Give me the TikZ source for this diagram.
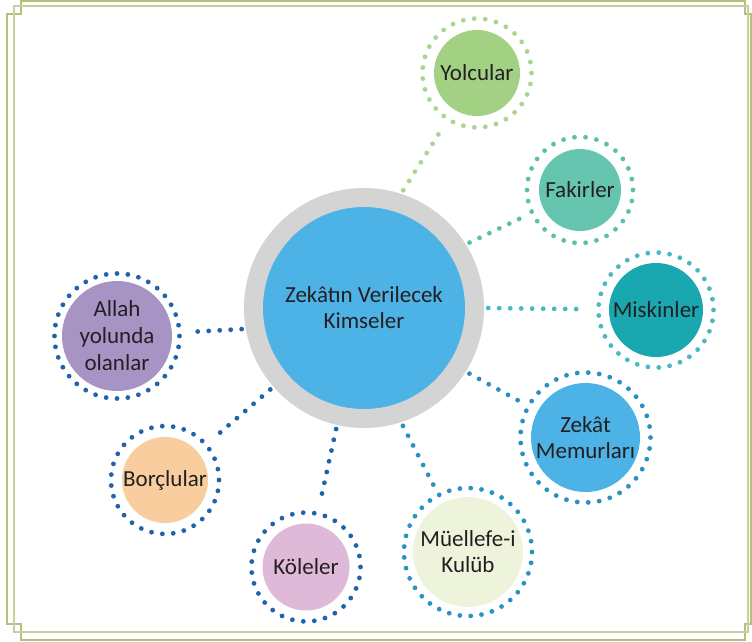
\documentclass[tikz,border=0pt]{standalone}
\usepackage{fontspec}
\setmainfont{Carlito}
\definecolor{olivea}{HTML}{B4C07B}
\definecolor{oliveb}{HTML}{C6D09C}
\definecolor{txt}{HTML}{231F20}
\definecolor{grayring}{HTML}{D4D4D4}
\definecolor{skyblue}{HTML}{4DB3E6}
\definecolor{yolfill}{HTML}{A3D184}
\definecolor{yoldot}{HTML}{A8D690}
\definecolor{fakfill}{HTML}{66C5AE}
\definecolor{fakdot}{HTML}{5DBFA8}
\definecolor{misfill}{HTML}{1AA8B0}
\definecolor{misdot}{HTML}{4BB7C3}
\definecolor{zekdot}{HTML}{2A90C0}
\definecolor{muefill}{HTML}{EEF3DC}
\definecolor{muedot}{HTML}{2A93C1}
\definecolor{kolfill}{HTML}{DFBAD8}
\definecolor{borfill}{HTML}{F9CE9F}
\definecolor{allfill}{HTML}{A893C5}
\definecolor{navydot}{HTML}{1F63AA}
\tikzset{
  frameA/.style={draw=olivea, line width=2.6pt},
  frameB/.style={draw=oliveb, line width=2.4pt},
  bub/.style={circle, fill=#1, inner sep=0pt, text=txt, align=center,
    font=\fontsize{23}{26}\selectfont},
  dotring/.style 2 args={circle, inner sep=0pt, draw=#2, line width=4.8pt, line cap=round,
    minimum size=2*#1 pt,
    /utils/exec={\pgfmathsetmacro\dotgap{2*pi*#1/round(2*pi*#1/11)}},
    dash pattern=on 0pt off \dotgap pt},
  conn/.style={draw=#1, line width=4.8pt, line cap=round, dash pattern=on 0pt off 11pt,
    shorten >=9pt, shorten <=4pt}
}
\begin{document}
\begin{tikzpicture}[x=1pt,y=-1pt]
\useasboundingbox (0,0) rectangle (752,642);
% frame
\draw[frameA] (7,14) rectangle (751,624);
\draw[frameA] (21,1) rectangle (745,640);
\fill[white] (8.3,15.3) rectangle (749.7,622.7);
\fill[white] (22.3,2.3) rectangle (743.7,638.7);
\draw[frameB] (14,6) rectangle (748,632);

% centre
\node[circle, fill=grayring, minimum size=240pt, inner sep=0pt] (cring) at (364,308) {};
\node[bub=skyblue, minimum size=202pt] (c) at (364,308) {Zekâtın Verilecek\\Kimseler};

% outer nodes
\node[bub=yolfill, minimum size=86pt] (yol) at (477,73) {Yolcular};
\node[dotring={54.5}{yoldot}] (yolR) at (477,73) {};

\node[bub=fakfill, minimum size=82pt] (fak) at (580,190) {Fakirler};
\node[dotring={53}{fakdot}] (fakR) at (580,190) {};

\node[bub=misfill, minimum size=94pt] (mis) at (656,310) {Miskinler};
\node[dotring={57.5}{misdot}] (misR) at (656,310) {};

\node[bub=skyblue, minimum size=109pt] (zek) at (585.5,437.5) {Zekât\\Memurları};
\node[dotring={65}{zekdot}] (zekR) at (585.5,437.5) {};

\node[bub=muefill, minimum size=110pt] (mue) at (468,552) {Müellefe-i\\Kulüb};
\node[dotring={64}{muedot}] (mueR) at (468,552) {};

\node[bub=kolfill, minimum size=87pt] (kol) at (306,567) {Köleler};
\node[dotring={54.5}{navydot}] (kolR) at (306,567) {};

\node[bub=borfill, minimum size=86pt] (bor) at (165,480) {Borçlular};
\node[dotring={54}{navydot}] (borR) at (165,480) {};

\node[bub=allfill, minimum size=110pt, font=\fontsize{23}{27}\selectfont] (all) at (117,336) {Allah\\yolunda\\olanlar};
\node[dotring={62.5}{navydot}] (allR) at (117,336) {};

% connectors
\draw[conn=yoldot] (cring.72.6) -- (yolR);
\draw[conn=fakdot] (cring.32.4) -- (fakR);
\draw[conn=misdot] (cring.0) -- (misR);
\draw[conn=zekdot] (cring.-32.5) -- (zekR);
\draw[conn=muedot] (cring.-72) -- (mueR);
\draw[conn=navydot] (cring.-103) -- (kolR);
\draw[conn=navydot] (cring.-139.8) -- (borR);
\draw[conn=navydot] (cring.-170.5) -- (allR);
\end{tikzpicture}
\end{document}
